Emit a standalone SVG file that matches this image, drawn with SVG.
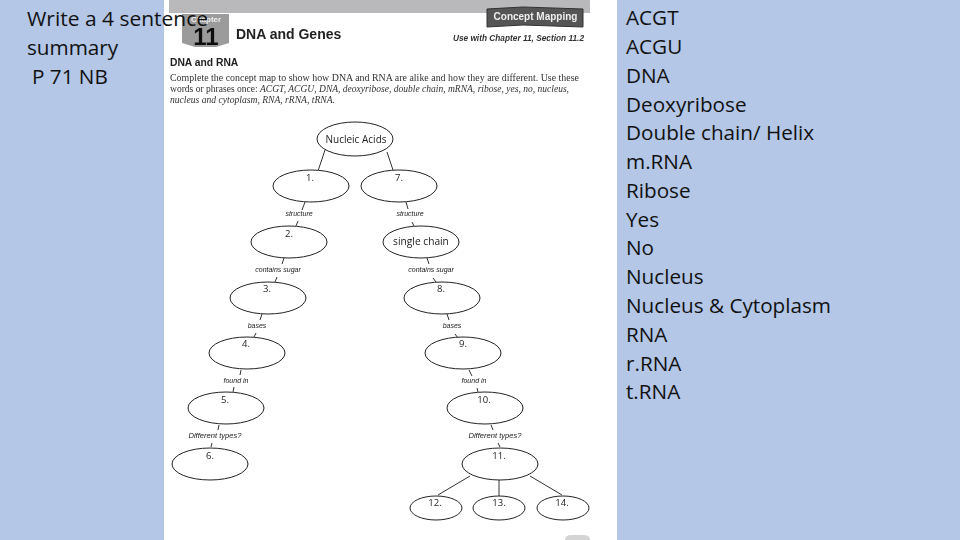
<svg xmlns="http://www.w3.org/2000/svg" width="960" height="540" viewBox="0 0 960 540">
<style>
.big{font-family:"Open Sans","Liberation Sans",sans-serif;font-size:20.7px;fill:#111}
.s{font-family:"Open Sans","Liberation Sans",sans-serif;fill:#222;text-anchor:middle}
.n{font-size:9.5px}
.l{font-family:"Liberation Sans",sans-serif;font-size:7px;font-style:italic;fill:#222;text-anchor:middle}
.d{font-size:7.6px}
.e{fill:#fff;stroke:#222;stroke-width:1}
.c{stroke:#333;stroke-width:1;fill:none}
.b{font-family:"Liberation Sans",sans-serif;font-weight:bold}
.p{font-family:"Liberation Serif",serif;font-size:9.6px;fill:#333}
</style>
<defs><filter id="soft" x="-5%" y="-5%" width="110%" height="110%"><feGaussianBlur stdDeviation="0.35"/></filter></defs>
<rect width="960" height="540" fill="#b4c7e7"/>
<rect x="164" y="0" width="453" height="540" fill="#fff"/>
<rect x="169" y="0" width="421" height="13" fill="#b9b9bb"/>
<path d="M565 540q0-5 6-5h12q7 0 7 5z" fill="#d4d4d4"/>
<g id="worksheet-header" filter="url(#soft)">
<path d="M182 14H229V43L216 47H195L182 43Z" fill="#9b9b9b"/>
<text class="b" x="206" y="22" font-size="8" text-anchor="middle" style="fill:#eee">Chapter</text>
<text class="b" x="206" y="45" font-size="24" text-anchor="middle" style="fill:#111">11</text>
<text class="b" x="236" y="39" font-size="14" style="fill:#222">DNA and Genes</text>
<path d="M487 9L523 7L583 9V27L523 25L487 27Z" fill="#555" stroke="#333"/>
<text class="b" x="535.500" y="20" font-size="10" text-anchor="middle" style="fill:#eee">Concept Mapping</text>
<text class="b" x="584" y="41" font-size="8.300" font-style="italic" text-anchor="end" style="fill:#333">Use with Chapter 11, Section 11.2</text>
<text class="b" x="170" y="66" font-size="10.300" style="fill:#222">DNA and RNA</text>
<text class="p" x="170" y="81" textLength="409" lengthAdjust="spacingAndGlyphs">Complete the concept map to show how DNA and RNA are alike and how they are different. Use these</text>
<text class="p" x="170" y="92" textLength="399" lengthAdjust="spacingAndGlyphs">words or phrases once: <tspan font-style="italic">ACGT, ACGU, DNA, deoxyribose, double chain, mRNA, ribose, yes, no, nucleus,</tspan></text>
<text class="p" x="170" y="103" font-style="italic">nucleus and cytoplasm, RNA, rRNA, tRNA.</text>
</g>
<g id="connectors">
<path class="c" d="M325 150L318 171M387 152L393 170M305 202L302 210M298 221L296 226M406 202L408 209M412 222L414 226M284 258L282 264M277 277L275 282M427 258L429 264M433 278L436 282M262 314L260 320M256 333L254 337M447 314L449 320M455 334L458 338M241 370L240 375M234 387L233 392M469 370L472 376M477 388L478 392M219 425L218 430M212 443L211 447M491 425L493 430M498 443L500 447M470 476L438 495M499 480V496M530 476L562 495"/>
</g>
<g id="labels" filter="url(#soft)">
<text class="l" x="299" y="216">structure</text><text class="l" x="410" y="216">structure</text>
<text class="l" x="278" y="272">contains sugar</text><text class="l" x="431" y="272">contains sugar</text>
<text class="l" x="257" y="328">bases</text><text class="l" x="452" y="328">bases</text>
<text class="l" x="236" y="383">found in</text><text class="l" x="474" y="383">found in</text>
<text class="l d" x="215" y="438">Different types?</text><text class="l d" x="495" y="438">Different types?</text>
</g>
<g filter="url(#soft)">
<g id="nucleic-acids"><ellipse class="e" cx="355" cy="139" rx="38" ry="17"/><text class="s" x="356" y="143" font-size="10">Nucleic Acids</text></g>
<g id="n1"><ellipse class="e" cx="311" cy="186" rx="38" ry="16"/><text class="s n" x="310" y="181">1.</text></g>
<g id="n7"><ellipse class="e" cx="399" cy="186" rx="38" ry="16"/><text class="s n" x="399" y="181">7.</text></g>
<g id="n2"><ellipse class="e" cx="289" cy="242" rx="38" ry="16"/><text class="s n" x="289" y="237">2.</text></g>
<g id="single-chain"><ellipse class="e" cx="421" cy="242" rx="38" ry="16"/><text class="s" x="421" y="245" font-size="10.200">single chain</text></g>
<g id="n3"><ellipse class="e" cx="268" cy="298" rx="38" ry="16"/><text class="s n" x="267" y="292">3.</text></g>
<g id="n8"><ellipse class="e" cx="442" cy="298" rx="38" ry="16"/><text class="s n" x="441" y="292">8.</text></g>
<g id="n4"><ellipse class="e" cx="247" cy="353" rx="38" ry="16"/><text class="s n" x="246" y="347">4.</text></g>
<g id="n9"><ellipse class="e" cx="463" cy="353" rx="38" ry="16"/><text class="s n" x="463" y="347">9.</text></g>
<g id="n5"><ellipse class="e" cx="226" cy="408" rx="38" ry="16"/><text class="s n" x="225" y="403">5.</text></g>
<g id="n10"><ellipse class="e" cx="485" cy="408" rx="38" ry="16"/><text class="s n" x="484" y="403">10.</text></g>
<g id="n6"><ellipse class="e" cx="210" cy="464" rx="38" ry="16"/><text class="s n" x="210" y="459">6.</text></g>
<g id="n11"><ellipse class="e" cx="500" cy="464" rx="38" ry="16"/><text class="s n" x="499" y="459">11.</text></g>
<g id="n12"><ellipse class="e" cx="436" cy="508" rx="26" ry="12"/><text class="s n" x="435" y="506">12.</text></g>
<g id="n13"><ellipse class="e" cx="499" cy="508" rx="26" ry="12"/><text class="s n" x="499" y="506">13.</text></g>
<g id="n14"><ellipse class="e" cx="563" cy="508" rx="26" ry="12"/><text class="s n" x="562" y="506">14.</text></g>
</g>
<g id="summary-text">
<text class="big" x="27" y="26" textLength="181" lengthAdjust="spacingAndGlyphs">Write a 4 sentence</text>
<text class="big" x="27" y="55">summary</text>
<text class="big" x="32" y="84">P 71 NB</text>
</g>
<g id="word-list">
<text class="big" x="626" y="25">ACGT</text>
<text class="big" x="626" y="54">ACGU</text>
<text class="big" x="626" y="83">DNA</text>
<text class="big" x="626" y="112">Deoxyribose</text>
<text class="big" x="626" y="140">Double chain/ Helix</text>
<text class="big" x="626" y="169">m.RNA</text>
<text class="big" x="626" y="198">Ribose</text>
<text class="big" x="626" y="227">Yes</text>
<text class="big" x="626" y="255">No</text>
<text class="big" x="626" y="284">Nucleus</text>
<text class="big" x="626" y="313">Nucleus &amp; Cytoplasm</text>
<text class="big" x="626" y="342">RNA</text>
<text class="big" x="626" y="371">r.RNA</text>
<text class="big" x="626" y="399">t.RNA</text>
</g>
</svg>
